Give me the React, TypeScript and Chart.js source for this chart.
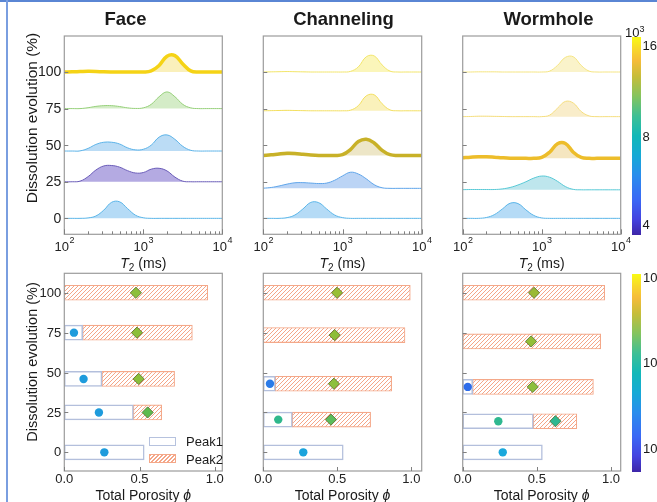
import React, { useEffect, useRef } from "react";
import { Chart, registerables } from "chart.js";

Chart.register(...registerables);

const W = 657;
const H = 502;
const FONT = '"Liberation Sans", Arial, Helvetica, sans-serif';

// ---------- shared axis data ----------
const T2_MS = [100, 126, 158, 200, 251, 316, 398, 501, 631, 794, 1000, 1259, 1585, 1995, 2512, 3162, 3981, 5012, 6310, 7943, 10000];
const STAGES = [0, 25, 50, 75, 100];
const Y_TICKS = [0, 25, 50, 75, 100];
const T2_MAJOR = [100, 1000, 10000];
const T2_MAJOR_EXP = ["2", "3", "4"];
const T2_MINOR = [200, 300, 400, 500, 600, 700, 800, 900, 2000, 3000, 4000, 5000, 6000, 7000, 8000, 9000];
const PHI_TICKS = [0, 0.5, 1.0];
const PHI_LABELS = ["0.0", "0.5", "1.0"];

// ---------- Face ----------
const FACE_BASE = [0, 25, 46, 75, 100];
const FACE_AMP_0 = [0, 0, 0, 0.3, 1.6, 5.6, 11.0, 11.3, 6.7, 2.2, 0.4, 0, 0, 0, 0, 0, 0, 0, 0, 0, 0];
const FACE_AMP_25 = [0, 0, 0.4, 3.5, 8, 10.8, 11.1, 10.0, 7.6, 6, 6.3, 8.6, 9.2, 7.4, 3.2, 0.4, 0, 0, 0, 0, 0];
const FACE_AMP_50 = [0, 0, 0.1, 1.8, 4.5, 6, 6.0, 4.8, 2.2, 0.8, 1.2, 4, 9.5, 11.0, 8, 3.2, 0.5, 0, 0, 0, 0];
const FACE_AMP_75 = [0, 0, 0, 0.6, 1.5, 2, 2, 1.4, 0.5, 0.1, 0.5, 2.9, 8.1, 11.4, 8.1, 2.9, 0.5, 0, 0, 0, 0];
const FACE_AMP_100 = [0, 0.1, 0.3, 0.5, 0.4, 0.1, 0, 0, 0, 0, 0, 0.8, 4.5, 10.8, 11.2, 5.5, 0.8, 0, 0, 0, 0];
const FACE_P1_END = [0.531, 0.459, 0.25, 0.122, null];
const FACE_P2_END = [null, 0.647, 0.733, 0.851, 0.953];
const FACE_P1_PHI = [0.266, 0.23, 0.128, 0.064, null];
const FACE_P2_PHI = [null, 0.554, 0.494, 0.483, 0.476];

// ---------- Channeling ----------
const CHAN_BASE = [0, 20.5, 43, 73.5, 100];
const CHAN_AMP_0 = [0, 0, 0, 0.5, 2.3, 6.4, 10.9, 10.7, 6.4, 2.3, 0.5, 0, 0, 0, 0, 0, 0, 0, 0, 0, 0];
const CHAN_AMP_25 = [0.1, 0.6, 1.6, 2.9, 3.8, 3.9, 3.6, 3.3, 3.6, 5.5, 8.5, 11.0, 9.8, 6.5, 2.5, 0.4, 0, 0, 0, 0, 0];
const CHAN_AMP_50 = [0, 0.4, 1.0, 1.4, 1.3, 0.8, 0.3, 0, 0, 0, 0.5, 4, 9.5, 11.1, 8.5, 3.5, 0.5, 0, 0, 0, 0];
const CHAN_AMP_75 = [0, 0.1, 0.2, 0.3, 0.2, 0.1, 0, 0, 0, 0, 0, 0.4, 3.5, 10.2, 10.9, 4.8, 0.6, 0, 0, 0, 0];
const CHAN_AMP_100 = [0, 0.1, 0.2, 0.3, 0.2, 0.1, 0, 0, 0, 0, 0, 0.4, 3.5, 10.4, 11.0, 4.8, 0.6, 0, 0, 0, 0];
const CHAN_P1_END = [0.54, 0.196, 0.081, null, null];
const CHAN_P2_END = [null, 0.725, 0.867, 0.957, 0.993];
const CHAN_P1_PHI = [0.27, 0.101, 0.045, null, null];
const CHAN_P2_PHI = [null, 0.457, 0.477, 0.482, 0.498];

// ---------- Wormhole ----------
const WORM_BASE = [0, 19.5, 41, 69.5, 100];
const WORM_AMP_0 = [0, 0, 0, 0.6, 2.5, 6.3, 10.3, 10.1, 5.8, 2, 0.3, 0, 0, 0, 0, 0, 0, 0, 0, 0, 0];
const WORM_AMP_25 = [0.1, 0.2, 0.2, 0.2, 0.2, 0.6, 1.6, 3.3, 5.5, 8, 9.4, 8.6, 5.8, 2.2, 0.3, 0, 0, 0, 0, 0, 0];
const WORM_AMP_50 = [0.4, 0.8, 1.1, 1.1, 0.8, 0.4, 0.1, 0, 0, 0, 0.6, 4.2, 10.0, 10.2, 4.2, 0.6, 0, 0, 0, 0, 0];
const WORM_AMP_75 = [0, 0.1, 0.3, 0.3, 0.2, 0.1, 0, 0, 0, 0, 0, 1, 5.8, 10.4, 9.3, 3.5, 0.5, 0, 0, 0, 0];
const WORM_AMP_100 = [0, 0, 0.1, 0.1, 0.1, 0, 0, 0, 0, 0, 0, 0.6, 4.5, 10.0, 10.4, 4.5, 0.6, 0, 0, 0, 0];
const WORM_P1_END = [0.537, 0.476, 0.067, null, null];
const WORM_P2_END = [null, 0.769, 0.881, 0.93, 0.957];
const WORM_P1_PHI = [0.27, 0.24, 0.034, null, null];
const WORM_P2_PHI = [null, 0.625, 0.472, 0.461, 0.481];

// ---------- styles ----------
const FACE_LINE = ["#5ab5e8", "#6a5cb8", "#5cb3e8", "#96d07a", "#f5d316"];
const FACE_FILL = ["rgba(120,190,238,0.55)", "rgba(140,125,210,0.65)", "rgba(120,185,236,0.5)", "rgba(160,212,130,0.45)", "rgba(246,226,120,0.5)"];
const FACE_WIDTH = [1, 1, 1, 1, 3.5];
const CHAN_LINE = ["#5ab5e8", "#5fa5ea", "#c8b128", "#f3df60", "#f2e56b"];
const CHAN_FILL = ["rgba(120,190,238,0.55)", "rgba(120,170,236,0.5)", "rgba(215,200,130,0.45)", "rgba(245,228,120,0.5)", "rgba(247,238,130,0.55)"];
const CHAN_WIDTH = [1, 1, 3.5, 1, 1];
const WORM_LINE = ["#5ab5e8", "#58c9d6", "#edbd2a", "#f5de7e", "#f5e583"];
const WORM_FILL = ["rgba(120,190,238,0.55)", "rgba(125,205,220,0.5)", "rgba(236,205,130,0.5)", "rgba(243,220,150,0.5)", "rgba(246,232,150,0.5)"];
const WORM_WIDTH = [1, 1, 3.5, 1, 1];

const FACE_DOT = ["#1e9bdc", "#1e9bdc", "#1e9bdc", "#1e9bdc", null];
const FACE_DIA = [null, "#5dbb4e", "#8bbf3a", "#8bbf3a", "#8cbf3b"];
const CHAN_DOT = ["#1aa3dc", "#2fb88c", "#2b7be8", null, null];
const CHAN_DIA = [null, "#5cbc5c", "#8dbf3c", "#8dbd38", "#98bf34"];
const WORM_DOT = ["#1aa8dc", "#2fb890", "#2d6cea", null, null];
const WORM_DIA = [null, "#2fb890", "#8dbf3c", "#93be38", "#9ab934"];

const COLS = [
  { l: 64.3, r: 222.3 },
  { l: 263.3, r: 421.7 },
  { l: 462.7, r: 620.7 },
];
const TOP_ROW = { t: 36, b: 234.3, ymin: -10.9, ymax: 124.6 };
const BOT_ROW = { t: 273.3, b: 471, ymin: -11.7, ymax: 112.2 };

const PANELS = [
  { title: "Face", titleX: 125.5, base: FACE_BASE, amps: [FACE_AMP_0, FACE_AMP_25, FACE_AMP_50, FACE_AMP_75, FACE_AMP_100], line: FACE_LINE, fill: FACE_FILL, width: FACE_WIDTH, p1End: FACE_P1_END, p2End: FACE_P2_END, p1Phi: FACE_P1_PHI, p2Phi: FACE_P2_PHI, dot: FACE_DOT, dia: FACE_DIA, phiMax: 1.05 },
  { title: "Channeling", titleX: 343.5, base: CHAN_BASE, amps: [CHAN_AMP_0, CHAN_AMP_25, CHAN_AMP_50, CHAN_AMP_75, CHAN_AMP_100], line: CHAN_LINE, fill: CHAN_FILL, width: CHAN_WIDTH, p1End: CHAN_P1_END, p2End: CHAN_P2_END, p1Phi: CHAN_P1_PHI, p2Phi: CHAN_P2_PHI, dot: CHAN_DOT, dia: CHAN_DIA, phiMax: 1.07 },
  { title: "Wormhole", titleX: 548.5, base: WORM_BASE, amps: [WORM_AMP_0, WORM_AMP_25, WORM_AMP_50, WORM_AMP_75, WORM_AMP_100], line: WORM_LINE, fill: WORM_FILL, width: WORM_WIDTH, p1End: WORM_P1_END, p2End: WORM_P2_END, p1Phi: WORM_P1_PHI, p2Phi: WORM_P2_PHI, dot: WORM_DOT, dia: WORM_DIA, phiMax: 1.065 },
];

const framePlugin = {
  id: "frame",
  afterDatasetsDraw(chart: any, _args: any, o: any) {
    const { ctx, chartArea: a } = chart;
    const xs = chart.scales.x;
    const ys = chart.scales.y;
    ctx.save();
    ctx.strokeStyle = "#9c9c9c";
    ctx.lineWidth = 1.2;
    ctx.strokeRect(a.left, a.top, a.right - a.left, a.bottom - a.top);
    ctx.strokeStyle = "#808080";
    ctx.lineWidth = 1;
    ctx.beginPath();
    for (const v of Y_TICKS) {
      const p = Math.round(ys.getPixelForValue(v)) + 0.5;
      ctx.moveTo(a.left, p);
      ctx.lineTo(a.left + 4, p);
    }
    if (o.kind === "top") {
      for (const v of T2_MAJOR) {
        const p = Math.round(xs.getPixelForValue(v)) + 0.5;
        ctx.moveTo(p, a.bottom);
        ctx.lineTo(p, a.bottom - 5);
      }
      for (const v of T2_MINOR) {
        const p = Math.round(xs.getPixelForValue(v)) + 0.5;
        ctx.moveTo(p, a.bottom);
        ctx.lineTo(p, a.bottom - 3);
      }
    } else {
      for (const v of PHI_TICKS) {
        const p = Math.round(xs.getPixelForValue(v)) + 0.5;
        ctx.moveTo(p, a.bottom);
        ctx.lineTo(p, a.bottom - 4);
      }
    }
    ctx.stroke();

    ctx.fillStyle = "#222";
    if (o.yLabels) {
      ctx.font = `${o.yFont}px ${FONT}`;
      ctx.textAlign = "right";
      ctx.textBaseline = "middle";
      for (const v of Y_TICKS) {
        ctx.fillText(String(v), a.left - 3, ys.getPixelForValue(v) + 0.5);
      }
    }
    if (o.kind === "top") {
      T2_MAJOR.forEach((v, i) => {
        const px = xs.getPixelForValue(v);
        ctx.font = `13px ${FONT}`;
        const wb = ctx.measureText("10").width;
        ctx.font = `9px ${FONT}`;
        const we = ctx.measureText(T2_MAJOR_EXP[i]).width;
        const x0 = px - (wb + we) / 2;
        ctx.textAlign = "left";
        ctx.textBaseline = "alphabetic";
        ctx.font = `13px ${FONT}`;
        ctx.fillText("10", x0, a.bottom + 17);
        ctx.font = `9px ${FONT}`;
        ctx.fillText(T2_MAJOR_EXP[i], x0 + wb + 0.5, a.bottom + 9);
      });
    } else {
      ctx.font = `13px ${FONT}`;
      ctx.textAlign = "center";
      ctx.textBaseline = "middle";
      PHI_TICKS.forEach((v, i) => {
        ctx.fillText(PHI_LABELS[i], xs.getPixelForValue(v), a.bottom + 8.5);
      });
    }
    ctx.restore();
  },
};

function makeHatch(ctx: CanvasRenderingContext2D): CanvasPattern | string {
  const c = document.createElement("canvas");
  c.width = 4;
  c.height = 4;
  const g = c.getContext("2d");
  if (!g) return "#fbd5c4";
  g.fillStyle = "#ffffff";
  g.fillRect(0, 0, 4, 4);
  g.strokeStyle = "#f5a688";
  g.lineWidth = 1;
  g.beginPath();
  g.moveTo(0, 4);
  g.lineTo(4, 0);
  g.moveTo(-1, 1);
  g.lineTo(1, -1);
  g.moveTo(3, 5);
  g.lineTo(5, 3);
  g.stroke();
  return ctx.createPattern(c, "repeat") || "#fbd5c4";
}

function idx(arr: (number | string | null)[]) {
  return STAGES.map((_, k) => k).filter((k) => arr[k] !== null);
}

export default function App() {
  const refs = useRef<(HTMLCanvasElement | null)[]>([]);

  useEffect(() => {
    const charts: Chart[] = [];
    PANELS.forEach((p, col) => {
      const cTop = refs.current[col * 2];
      const cBot = refs.current[col * 2 + 1];
      const geo = COLS[col];
      if (cTop) {
        const datasets: any[] = p.amps.map((amp, k) => ({
          type: "line",
          data: T2_MS.map((t, i) => ({ x: t, y: p.base[k] + amp[i] })),
          borderColor: p.line[k],
          backgroundColor: p.fill[k],
          borderWidth: p.width[k],
          fill: { value: p.base[k] },
          pointRadius: 0,
          tension: 0.4,
        }));
        charts.push(
          new Chart(cTop, {
            type: "line",
            data: { datasets },
            plugins: [framePlugin as any],
            options: {
              responsive: false,
              animation: false,
              events: [],
              layout: { padding: { left: geo.l, right: W - geo.r, top: TOP_ROW.t, bottom: H - TOP_ROW.b } },
              scales: {
                x: { type: "logarithmic", min: 100, max: 10000, display: false },
                y: { type: "linear", min: TOP_ROW.ymin, max: TOP_ROW.ymax, display: false },
              },
              plugins: {
                legend: { display: false },
                tooltip: { enabled: false },
                frame: { kind: "top", yLabels: col === 0, yFont: 14 },
              } as any,
            },
          })
        );
      }
      if (cBot) {
        const ctx = cBot.getContext("2d") as CanvasRenderingContext2D;
        const hatch = makeHatch(ctx);
        const i1 = idx(p.p1End);
        const i2 = idx(p.p2End);
        const iDot = idx(p.p1Phi);
        const iDia = idx(p.p2Phi);
        const datasets: any[] = [
          {
            type: "scatter",
            data: iDot.map((k) => ({ x: p.p1Phi[k], y: p.base[k] })),
            pointStyle: "circle",
            pointRadius: 4.2,
            pointBackgroundColor: iDot.map((k) => p.dot[k]),
            pointBorderColor: iDot.map((k) => p.dot[k]),
            pointBorderWidth: 0,
            order: 0,
          },
          {
            type: "scatter",
            data: iDia.map((k) => ({ x: p.p2Phi[k], y: p.base[k] })),
            pointStyle: "rectRot",
            pointRadius: 5.6,
            pointBackgroundColor: iDia.map((k) => p.dia[k]),
            pointBorderColor: "#5a6a2c",
            pointBorderWidth: 0.8,
            order: 0,
          },
          {
            type: "bar",
            indexAxis: "y",
            data: i1.map((k) => ({ y: p.base[k], x: [0, p.p1End[k]] })),
            backgroundColor: "#ffffff",
            borderColor: "#b3bfdc",
            borderWidth: 1.5,
            borderSkipped: false,
            barThickness: 15,
            grouped: false,
            order: 1,
          },
          {
            type: "bar",
            indexAxis: "y",
            data: i2.map((k) => ({ y: p.base[k], x: [p.p1End[k] ?? 0, p.p2End[k]] })),
            backgroundColor: hatch,
            borderColor: "#f4a889",
            borderWidth: 1.1,
            borderSkipped: false,
            barThickness: 15,
            grouped: false,
            order: 1,
          },
        ];
        charts.push(
          new Chart(cBot, {
            type: "bar",
            data: { datasets },
            plugins: [framePlugin as any],
            options: {
              responsive: false,
              animation: false,
              events: [],
              layout: { padding: { left: geo.l, right: W - geo.r, top: BOT_ROW.t, bottom: H - BOT_ROW.b } },
              scales: {
                x: { type: "linear", min: 0, max: p.phiMax, display: false, offset: false },
                y: { type: "linear", min: BOT_ROW.ymin, max: BOT_ROW.ymax, display: false, offset: false },
              },
              plugins: {
                legend: { display: false },
                tooltip: { enabled: false },
                frame: { kind: "bottom", yLabels: col === 0, yFont: 13 },
              } as any,
            },
          })
        );
      }
    });
    return () => charts.forEach((c) => c.destroy());
  }, []);

  const abs = (x: number, y: number, extra: React.CSSProperties = {}): React.CSSProperties => ({
    position: "absolute",
    left: x,
    top: y,
    transform: "translate(-50%, -50%)",
    whiteSpace: "nowrap",
    lineHeight: 1,
    ...extra,
  });

  const gradient =
    "linear-gradient(to top, #3e26a8 0%, #4443e0 8%, #3a68f5 18%, #2a8ded 30%, #16a9d6 40%, #12b8b8 50%, #3ebf95 60%, #84c45e 70%, #c6bd3a 80%, #f5bc3a 88%, #f8d82c 94%, #f9fb14 100%)";

  return (
    <div style={{ position: "fixed", left: 0, top: 0, width: W, height: H, overflow: "hidden", background: "#fff", fontFamily: FONT, color: "#1a1a1a" }}>
      <div style={{ position: "absolute", left: 0, top: 0, width: W, height: 2, background: "#5a86d4" }} />
      <div style={{ position: "absolute", left: 6, top: 0, width: 1.7, height: H, background: "#7a9ee0" }} />
      {[0, 1, 2, 3, 4, 5].map((i) => (
        <canvas
          key={i}
          ref={(el) => {
            refs.current[i] = el;
          }}
          width={W}
          height={H}
          style={{ position: "absolute", left: 0, top: 0, width: W, height: H }}
        />
      ))}
      {PANELS.map((p, col) => (
        <div key={"t" + col} style={abs(p.titleX, 18.5, { fontWeight: "bold", fontSize: 18.5 })}>
          {p.title}
        </div>
      ))}
      {COLS.map((c, col) => (
        <div key={"xt" + col} style={abs((c.l + c.r) / 2, 264, { fontSize: 14 })}>
          <i>T</i>
          <sub style={{ fontSize: 10, verticalAlign: "-3px" }}>2</sub> (ms)
        </div>
      ))}
      {COLS.map((c, col) => (
        <div key={"xb" + col} style={abs((c.l + c.r) / 2, 495, { fontSize: 14 })}>
          Total Porosity <i>ϕ</i>
        </div>
      ))}
      <div style={abs(32, 118, { fontSize: 15.5, transform: "translate(-50%, -50%) rotate(-90deg)" })}>Dissolution evolution (%)</div>
      <div style={abs(32, 362, { fontSize: 14.5, transform: "translate(-50%, -50%) rotate(-90deg)" })}>Dissolution evolution (%)</div>

      {/* legend */}
      <div style={{ position: "absolute", left: 149, top: 436.5, width: 27, height: 9.5, boxSizing: "border-box", border: "1.4px solid #b6c2de", background: "#fff" }} />
      <div
        style={{
          position: "absolute",
          left: 149,
          top: 454,
          width: 27,
          height: 9,
          boxSizing: "border-box",
          border: "1px solid #f4a889",
          background: "repeating-linear-gradient(135deg, #f5a688 0px, #f5a688 1px, #ffffff 1px, #ffffff 2.8px)",
        }}
      />
      <div style={{ position: "absolute", left: 186, top: 441, transform: "translateY(-50%)", fontSize: 13, lineHeight: 1 }}>Peak1</div>
      <div style={{ position: "absolute", left: 186, top: 459, transform: "translateY(-50%)", fontSize: 13, lineHeight: 1 }}>Peak2</div>

      {/* colorbars */}
      <div style={{ position: "absolute", left: 631.7, top: 36.7, width: 9, height: 198.3, background: gradient }} />
      <div style={{ position: "absolute", left: 632, top: 274, width: 8.7, height: 198, background: gradient }} />
      <div style={{ position: "absolute", left: 625, top: 25, fontSize: 13, lineHeight: 1, whiteSpace: "nowrap" }}>
        10<sup style={{ fontSize: 9, verticalAlign: "5px" }}>3</sup>
      </div>
      <div style={{ position: "absolute", left: 642.5, top: 45, transform: "translateY(-50%)", fontSize: 13, lineHeight: 1 }}>16</div>
      <div style={{ position: "absolute", left: 642.5, top: 136, transform: "translateY(-50%)", fontSize: 13, lineHeight: 1 }}>8</div>
      <div style={{ position: "absolute", left: 642.5, top: 224, transform: "translateY(-50%)", fontSize: 13, lineHeight: 1 }}>4</div>
      {[277, 362, 448].map((y, i) => (
        <div key={"cb" + i} style={{ position: "absolute", left: 643, top: y, transform: "translateY(-50%)", fontSize: 13, lineHeight: 1, whiteSpace: "nowrap" }}>
          10<sup style={{ fontSize: 9 }}>{i === 0 ? "4" : i === 1 ? "3" : "2"}</sup>
        </div>
      ))}
    </div>
  );
}
